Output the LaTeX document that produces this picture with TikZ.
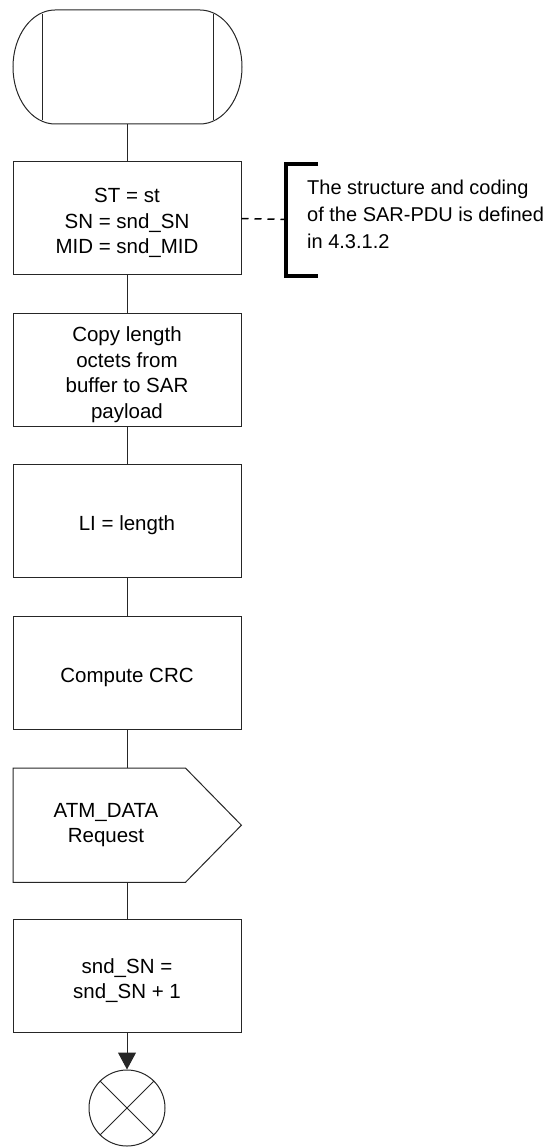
\documentclass[tikz,border=0pt]{standalone}
\usepackage{fontspec}
\setmainfont{Liberation Sans}
\usetikzlibrary{arrows.meta,calc}
\newcommand\topstrut{\rule{0pt}{24pt}}
\begin{document}
\begin{tikzpicture}[x=1pt,y=-1pt,
  conn/.style={draw=black!85, line width=1pt},
  outline/.style={draw=black!85, line width=1pt},
  box/.style={outline, minimum width=228pt, minimum height=113pt, align=center, inner sep=0pt, font=\fontsize{20.5}{25.5}\selectfont},
  ghost/.style={minimum width=228pt, minimum height=114pt, inner sep=0pt},
  lbl/.style={align=center, inner sep=0pt, font=\fontsize{20.5}{25.5}\selectfont},
  note/.style={align=left, inner sep=0pt, font=\fontsize{20}{27}\selectfont},
  brack/.style={draw=black, line width=3.5pt, line join=miter},
  dashconn/.style={draw=black, line width=1.5pt, dash pattern=on 7pt off 6pt}
]
\useasboundingbox (0,0) rectangle (559,1147);

% start terminator
\node[ghost] (start) at (127,67) {};
\draw[outline] (55,10) -- (200,10)
  arc[start angle=90, end angle=-90, x radius=42pt, y radius=57pt]
  -- (55,124)
  arc[start angle=270, end angle=90, x radius=42pt, y radius=57pt] -- cycle;
\draw[outline] (42,14) -- (42,120);
\draw[outline] (213,14) -- (213,120);

% task boxes
\node[box] (b1) at (127,218.5) {\topstrut ST = st\\SN = snd\_SN\\MID = snd\_MID};
\node[box] (b2) at (127,370) {\topstrut Copy length\\octets from\\buffer to SAR\\payload};
\node[box] (b3) at (127,521) {\topstrut LI = length};
\node[box] (b4) at (127,672.5) {\topstrut Compute CRC};
\node[box] (b5) at (127,976) {\topstrut snd\_SN =\\snd\_SN + 1};

% output signal
\node[minimum width=172pt, minimum height=114pt, inner sep=0pt, anchor=north west] (sig) at (13,768) {};
\draw[outline] (sig.north west) -- (sig.north east) -- ($(sig.east)+(56,0)$) -- (sig.south east) -- (sig.south west) -- cycle;
\node[lbl] (sigtext) at (106,825) {ATM\_DATA\\Request};

% stop
\node[outline, circle, minimum size=76pt, inner sep=0pt] (stop) at (127,1108) {};
\draw[outline] (stop.north west) -- (stop.south east);
\draw[outline] (stop.north east) -- (stop.south west);

% connectors
\draw[conn] (start.south) -- (b1.north);
\draw[conn] (b1.south) -- (b2.north);
\draw[conn] (b2.south) -- (b3.north);
\draw[conn] (b3.south) -- (b4.north);
\draw[conn] (b4.south) -- (b4.south |- sig.north);
\draw[conn] (b5.north |- sig.south) -- (b5.north);
\draw[conn, -{Triangle[length=17pt, width=18pt]}] (b5.south) -- (stop.north);

% comment
\coordinate (brk) at (286,219.5);
\draw[brack] (318,164) -- (286,164) -- (286,276) -- (318,276);
\draw[dashconn] (b1.east) -- (brk);
\node[note, anchor=west] (cmt) at (307,214) {The structure and coding\\of the SAR-PDU is defined\\in 4.3.1.2};
\end{tikzpicture}
\end{document}
